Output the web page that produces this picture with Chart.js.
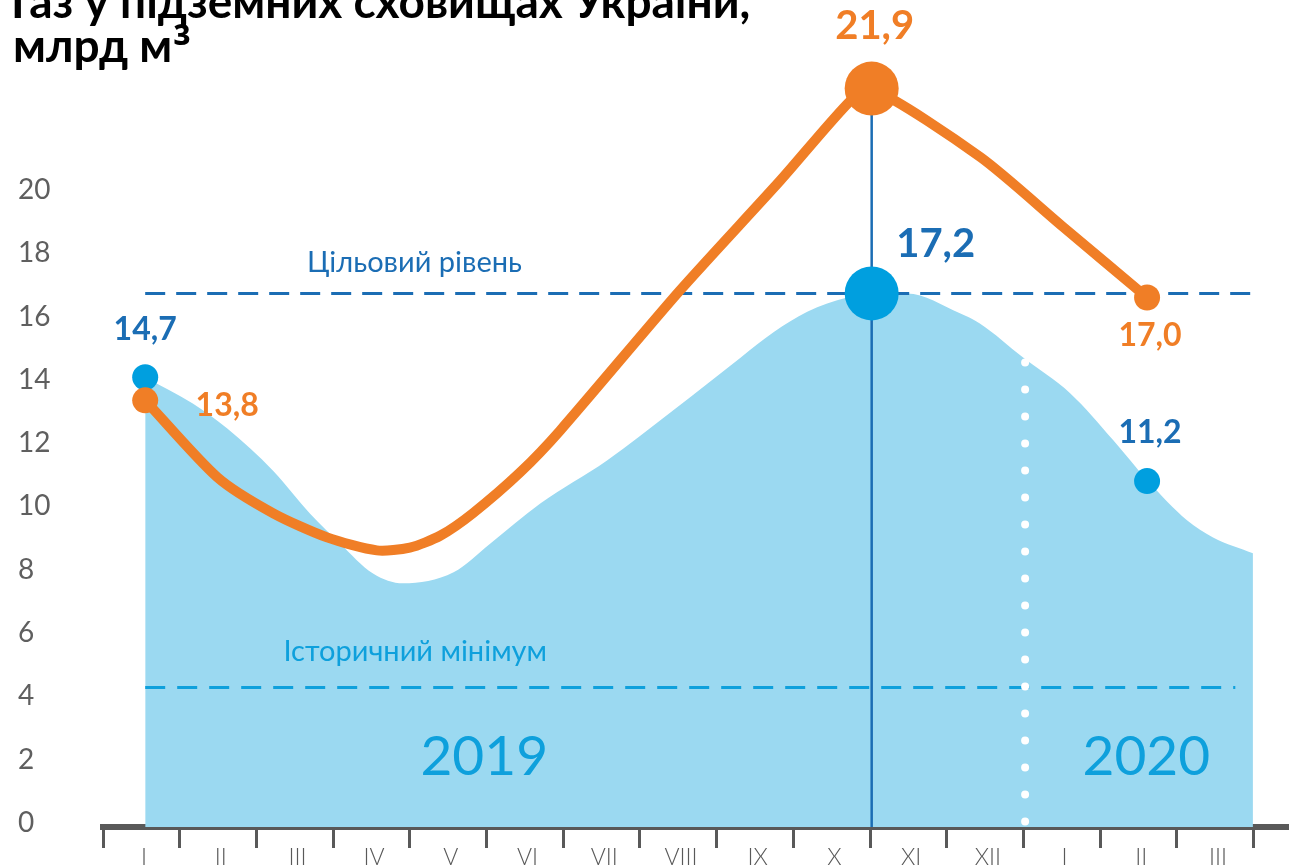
<!DOCTYPE html>
<html lang="uk">
<head>
<meta charset="utf-8">
<title>Газ у підземних сховищах України</title>
<script src="https://cdn.jsdelivr.net/npm/chart.js@4.4.1/dist/chart.umd.min.js"></script>
<style>
  html, body { margin: 0; padding: 0; background: #fff; overflow: hidden; }
  #wrap { position: relative; width: 1289px; height: 865px; }
  #wrap canvas { display: block; }
</style>
</head>
<body>
<div id="wrap"><canvas id="chart-gas"></canvas></div>
<script>
// ---- data (x = month index, 0 = January 2019) ----
const months = ['I', 'II', 'III', 'IV', 'V', 'VI', 'VII', 'VIII', 'IX', 'X', 'XI', 'XII', 'I', 'II', 'III'];
const yTicks = [0, 2, 4, 6, 8, 10, 12, 14, 16, 18, 20];

// stock in storage (blue area)
const stockX = [0.05, 0.67, 1.12, 1.72, 2.2, 2.59, 3.02, 3.41, 4.07, 4.55, 5.2, 6.07, 6.93, 7.81, 8.24, 8.68, 9.2, 9.52, 9.98, 10.67, 10.93, 11.49, 12.11, 12.67, 13.11, 13.63, 13.97, 14.49];
const stockY = [14.08, 13.25, 12.46, 11.12, 9.77, 8.83, 7.88, 7.57, 7.92, 8.83, 10.09, 11.45, 13.03, 14.7, 15.5, 16.15, 16.6, 16.73, 16.73, 16.1, 15.78, 14.71, 13.57, 12.09, 10.83, 9.56, 9.02, 8.52];

// orange line
const orangeX = [0.05, 0.99, 1.72, 2.42, 3.07, 3.5, 3.9, 4.32, 4.94, 5.46, 7.02, 8.33, 9.24, 9.52, 10.94, 12.02, 13.11];
const orangeY = [13.35, 10.92, 9.78, 9.02, 8.61, 8.7, 9.08, 9.78, 11.08, 12.4, 16.82, 20.3, 22.81, 23.2, 21.03, 18.82, 16.6];

// highlighted points and their captions
const markX = [0.05, 9.52, 13.11];
const blueMarkY = [14.08, 16.73, 10.8];
const orangeMarkY = [13.35, 23.2, 16.6];
const blueLabels = ['14,7', '17,2', '11,2'];
const orangeLabels = ['13,8', '21,9', '17,0'];

// reference levels
const targetLevel = 16.73;
const historicMin = 4.28;
const targetSpan = [0.05, 14.49];
const histSpan = [0.05, 14.26];
const splitX = 11.52;      // end of 2019
const splitTop = 14.55;
const peakX = 9.52;

const titleLines = ['Газ у підземних сховищах України,', 'млрд м', '³'];

// ---- colours ----
const C_AREA = '#9bd9f1';
const C_BLUE = '#009fdf';
const C_DARK = '#1b6db4';
const C_LIGHT = '#0ea0dc';
const C_ORANGE = '#f07e26';
const C_AXIS = '#595959';

// caption offsets from their point: dx, dy, font size
const blueLabelPos = [[0, -48, 32], [64, -49, 40], [3, -48, 32]];
const orangeLabelPos = [[82, 5, 32], [3, -63, 40], [3, 38, 32]];

const pts = (xs, ys) => xs.map((x, i) => ({ x, y: ys[i] }));

const textPlugin = {
  id: 'texts',
  afterDatasetsDraw(chart) {
    const { ctx, scales: { x, y } } = chart;
    ctx.save();
    ctx.textAlign = 'center';
    ctx.textBaseline = 'middle';

    ctx.fillStyle = C_DARK;
    ctx.font = '400 29px Lato';
    ctx.fillText('Цільовий рівень', x.getPixelForValue(3.56), y.getPixelForValue(17.7));

    ctx.fillStyle = C_LIGHT;
    ctx.font = '400 29px Lato';
    ctx.fillText('Історичний мінімум', x.getPixelForValue(3.57), y.getPixelForValue(5.42));

    ctx.font = '400 55px Lato';
    ctx.fillText('2019', x.getPixelForValue(4.47), y.getPixelForValue(2.07));
    ctx.fillText('2020', x.getPixelForValue(13.1), y.getPixelForValue(2.07));

    markX.forEach((mx, i) => {
      const px = x.getPixelForValue(mx);
      let [dx, dy, fs] = blueLabelPos[i];
      ctx.fillStyle = C_DARK;
      ctx.font = `bold ${fs}px Lato`;
      ctx.fillText(blueLabels[i], px + dx, y.getPixelForValue(blueMarkY[i]) + dy);
      [dx, dy, fs] = orangeLabelPos[i];
      ctx.fillStyle = C_ORANGE;
      ctx.font = `bold ${fs}px Lato`;
      ctx.fillText(orangeLabels[i], px + dx, y.getPixelForValue(orangeMarkY[i]) + dy);
    });

    // title (top line is cut by the edge, as in the source)
    ctx.textAlign = 'left';
    ctx.textBaseline = 'alphabetic';
    ctx.fillStyle = '#000';
    ctx.font = 'bold 46px Lato';
    ctx.fillText(titleLines[0], 11, 18);
    ctx.fillText(titleLines[1], 13, 62);
    const w = ctx.measureText(titleLines[1]).width;
    ctx.font = 'bold 46px "Noto Sans"';
    ctx.fillText(titleLines[2], 13 + w + 1, 64);
    ctx.restore();
  }
};

new Chart(document.getElementById('chart-gas'), {
  type: 'line',
  data: {
    datasets: [
      { data: pts(markX, orangeMarkY), showLine: false, order: 0,
        pointRadius: [13, 27, 13], pointBackgroundColor: C_ORANGE, pointBorderWidth: 0 },
      { data: pts(markX, blueMarkY), showLine: false, order: 1,
        pointRadius: [13, 27, 13], pointBackgroundColor: C_BLUE, pointBorderWidth: 0 },
      { data: pts(orangeX, orangeY), order: 2, borderColor: C_ORANGE, borderWidth: 10,
        tension: 0.25, pointRadius: 0, borderCapStyle: 'round', borderJoinStyle: 'round', fill: false },
      { data: [{ x: peakX, y: -0.13 }, { x: peakX, y: orangeMarkY[1] }], order: 3,
        borderColor: C_DARK, borderWidth: 2.5, pointRadius: 0, fill: false },
      { data: [{ x: splitX, y: splitTop }, { x: splitX, y: 0 }], order: 4,
        borderColor: '#fff', borderWidth: 8, borderDash: [0, 27], borderCapStyle: 'round',
        pointRadius: 0, fill: false },
      { data: [{ x: targetSpan[0], y: targetLevel }, { x: targetSpan[1], y: targetLevel }], order: 5,
        borderColor: C_DARK, borderWidth: 3, borderDash: [20, 11], pointRadius: 0, fill: false },
      { data: [{ x: histSpan[0], y: historicMin }, { x: histSpan[1], y: historicMin }], order: 6,
        borderColor: C_LIGHT, borderWidth: 3, borderDash: [20, 12], pointRadius: 0, fill: false },
      { data: pts(stockX, stockY), order: 7, fill: 'start', backgroundColor: C_AREA,
        borderWidth: 0, borderColor: 'rgba(0,0,0,0)', cubicInterpolationMode: 'monotone', pointRadius: 0 }
    ]
  },
  options: {
    responsive: true,
    maintainAspectRatio: false,
    animation: false,
    layout: { autoPadding: false, padding: { left: 18, top: 0, right: 0, bottom: 0 } },
    plugins: { legend: { display: false }, tooltip: { enabled: false } },
    scales: {
      x: {
        type: 'linear',
        min: -0.5,
        max: 14.96,
        afterBuildTicks: s => { s.ticks = months.concat(['']).map((m, i) => ({ value: i - 0.5 })); },
        afterFit: s => { s.height = 38; s.paddingLeft = 0; s.paddingRight = 0; },
        grid: { drawOnChartArea: false, drawTicks: true, tickLength: 21, tickWidth: 3, tickColor: C_AXIS },
        border: { display: true, width: 6, color: C_AXIS },
        ticks: {
          autoSkip: false, maxRotation: 0, padding: -2, labelOffset: 41,
          color: C_AXIS, font: { family: 'Lato', size: 23, weight: '300', lineHeight: 1 },
          callback: v => months[Math.round(v + 0.5)] || ''
        }
      },
      y: {
        type: 'linear',
        min: -0.13,
        max: 26,
        afterBuildTicks: s => { s.ticks = yTicks.map(v => ({ value: v })); },
        afterFit: s => { s.width = 85; s.paddingTop = 0; s.paddingBottom = 0; },
        grid: { display: false },
        border: { display: false },
        ticks: {
          crossAlign: 'far', color: '#5f5f5f',
          font: { family: 'Lato', size: 28, weight: '400' }
        }
      }
    }
  },
  plugins: [textPlugin]
});
</script>
</body>
</html>
